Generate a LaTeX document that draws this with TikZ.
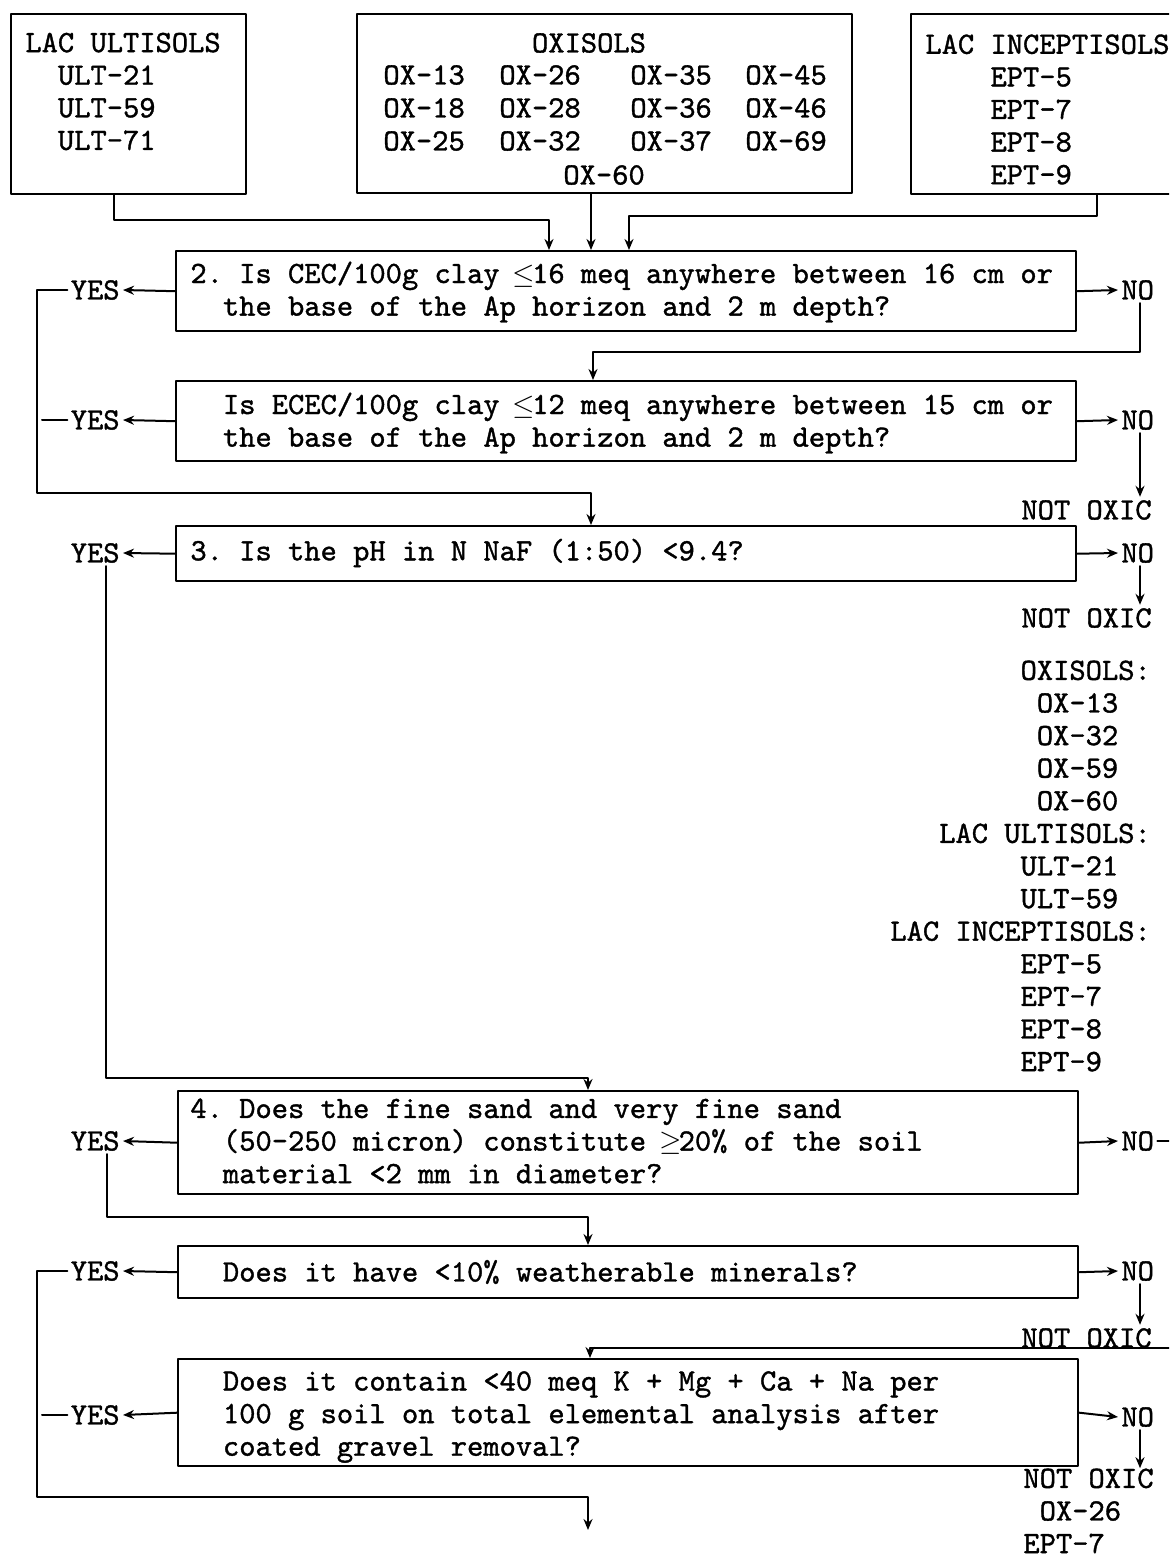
\documentclass[tikz,border=0pt]{standalone}
\usepackage{fontspec}
\usetikzlibrary{arrows.meta}

\newfontfamily\twfont{lmmono10-regular}[Extension=.otf, FakeBold=1.2]
\newcommand{\tw}{\twfont\fontsize{15.5}{16.3}\selectfont\frenchspacing}
\newcommand{\ind}[1][2]{\hspace*{#1\dimexpr0.525em\relax}}
\newcommand{\lesq}{\makebox[0.525em]{$\le$}}
\newcommand{\greq}{\makebox[0.525em]{$\ge$}}

\tikzset{
    sbox/.style={draw, line width=1.2pt, anchor=north west, inner sep=0pt},
    txt/.style={anchor=west, align=left, inner sep=0pt},
    ans/.style={inner sep=1.5pt},
    wire/.style={line width=1pt},
}

\begin{document}
\begin{tikzpicture}[x=0.5pt, y=-0.5pt, line join=round, line cap=round,
    >={Stealth[length=5.5pt,width=4.5pt]}, every node/.style={font=\tw, inner sep=0pt}]
    \useasboundingbox (0,0) rectangle (1169,1558);
    \clip (0,0) rectangle (1169,1558);

    % source groups
    \node[sbox, minimum width=117.5pt, minimum height=90pt] (ult) at (10,13) {};
    \node[txt] (ultt) at (25,91.5) {LAC ULTISOLS\\\ind ULT-21\\\ind ULT-59\\\ind ULT-71};
    \node[sbox, minimum width=247.5pt, minimum height=89.5pt] (ox) at (356,13) {};
    \node (oxt) at (589,43) {OXISOLS};
    \foreach \a/\b/\c/\d [count=\r] in {13/26/35/45, 18/28/36/46, 25/32/37/69} {
        \foreach \n/\x [count=\k] in {\a/383, \b/499, \c/630, \d/745}
            \node[anchor=west] (ox\r\k) at (\x, 42+33*\r) {OX-\n};
    }
    \node[anchor=west] (ox60) at (563,175) {OX-60};
    \node[sbox, minimum width=140pt, minimum height=90pt] (ept) at (910,13) {};
    \node[txt] (eptt) at (925,109.5) {LAC INCEPTISOLS\\\ind[4]EPT-5\\\ind[4]EPT-7\\\ind[4]EPT-8\\\ind[4]EPT-9};

    % question boxes
    \node[sbox, minimum width=450pt, minimum height=40pt] (q2) at (175,250) {};
    \node[txt] (q2t) at (190,292) {2. Is CEC/100g clay \lesq16 meq anywhere between 16 cm or\\\ind the base of the Ap horizon and 2 m depth?};
    \node[sbox, minimum width=450pt, minimum height=40pt] (q2b) at (175,380) {};
    \node[txt] (q2bt) at (190,423) {\ind Is ECEC/100g clay \lesq12 meq anywhere between 15 cm or\\\ind the base of the Ap horizon and 2 m depth?};
    \node[sbox, minimum width=450pt, minimum height=27.5pt] (q3) at (175,525) {};
    \node[txt] (q3t) at (190,553) {3. Is the pH in N NaF (1:50) <9.4?};
    \node[sbox, minimum width=450pt, minimum height=51.5pt] (q4) at (177,1090) {};
    \node[txt] (q4t) at (190,1141) {4. Does the fine sand and very fine sand\\\ind (50-250 micron) constitute \greq20\% of the soil\\\ind material <2 mm in diameter?};
    \node[sbox, minimum width=450pt, minimum height=26pt] (q5) at (177,1245) {};
    \node[txt] (q5t) at (190,1272) {\ind Does it have <10\% weatherable minerals?};
    \node[sbox, minimum width=450pt, minimum height=53.5pt] (q6) at (177,1358) {};
    \node[txt] (q6t) at (190,1417) {\ind Does it contain <40 meq K + Mg + Ca + Na per\\\ind 100 g soil on total elemental analysis after\\\ind coated gravel removal?};

    % answers
    \node[ans, anchor=east] (yes2) at (123,290) {YES};
    \node[ans, anchor=east] (yes2b) at (123,420) {YES};
    \node[ans, anchor=east] (yes3) at (123,553) {YES};
    \node[ans, anchor=east] (yes4) at (123,1141) {YES};
    \node[ans, anchor=east] (yes5) at (123,1271) {YES};
    \node[ans, anchor=east] (yes6) at (123,1415) {YES};
    \node[ans, anchor=west] (no2) at (1118,290) {NO};
    \node[ans, anchor=west] (no2b) at (1118,420) {NO};
    \node[ans, anchor=west] (no3) at (1118,553) {NO};
    \node[ans, anchor=west] (no4) at (1118,1141) {NO};
    \node[ans, anchor=west] (no5) at (1118,1271) {NO};
    \node[ans, anchor=west] (no6) at (1118,1417) {NO};
    \node[ans, anchor=east] (nox1) at (1155,510) {NOT OXIC};
    \node[ans, anchor=east] (nox2) at (1155,618) {NOT OXIC};
    \node[ans, anchor=east] (nox3) at (1155,1338) {NOT OXIC};
    \node[txt] (nox4) at (1023,1511) {NOT OXIC\\\ind[1]OX-26\\EPT-7};
    \node[txt] (list) at (890,866) {\ind[8]OXISOLS:\\\ind[9]OX-13\\\ind[9]OX-32\\\ind[9]OX-59\\\ind[9]OX-60\\\ind[3]LAC ULTISOLS:\\\ind[8]ULT-21\\\ind[8]ULT-59\\LAC INCEPTISOLS:\\\ind[8]EPT-5\\\ind[8]EPT-7\\\ind[8]EPT-8\\\ind[8]EPT-9};
    \coordinate (rim4) at (1169,1141);
    \coordinate (rim6) at (1169,1348);
    \coordinate (last) at (588,1530);

    % connectors
    \draw[wire, ->] (114,0 |- ult.south) |- (549,220) -- (549,0 |- q2.north);
    \draw[wire, ->] (591,0 |- ox.south) -- (591,0 |- q2.north);
    \draw[wire, ->] (1097,0 |- ept.south) |- (629,216) -- (629,0 |- q2.north);

    \draw[wire, ->] (q2.west) -- (yes2.east);
    \draw[wire, ->] (yes2.west) -- (37,290) |- (591,493) -- (591,0 |- q3.north);
    \draw[wire, ->] (q2.east) -- (no2.west);
    \draw[wire, ->] (1140,0 |- no2.south) |- (593,352) -- (593,0 |- q2b.north);

    \draw[wire, ->] (q2b.west) -- (yes2b.east);
    \draw[wire] (42,0 |- yes2b.west) -- (yes2b.west);
    \draw[wire, ->] (q2b.east) -- (no2b.west);
    \draw[wire, ->] (1140,0 |- no2b.south) -- (1140,0 |- nox1.north);

    \draw[wire, ->] (q3.west) -- (yes3.east);
    \draw[wire, ->] (106,0 |- yes3.south) |- (588,1078) -- (588,0 |- q4.north);
    \draw[wire, ->] (q3.east) -- (no3.west);
    \draw[wire, ->] (1140,0 |- no3.south) -- (1140,0 |- nox2.north);

    \draw[wire, ->] (q4.west) -- (yes4.east);
    \draw[wire, ->] (107,0 |- yes4.south) |- (588,1217) -- (588,0 |- q5.north);
    \draw[wire, ->] (q4.east) -- (no4.west);
    \draw[wire] (no4.east) -- (rim4);

    \draw[wire, ->] (q5.west) -- (yes5.east);
    \draw[wire, ->] (yes5.west) -- (37,1271) |- (588,1497) -- (last);
    \draw[wire, ->] (q5.east) -- (no5.west);
    \draw[wire, ->] (1140,0 |- no5.south) -- (1140,0 |- nox3.north);
    \draw[wire, ->] (rim6) -| (590,0 |- q6.north);

    \draw[wire, ->] (q6.west) -- (yes6.east);
    \draw[wire] (42,0 |- yes6.west) -- (yes6.west);
    \draw[wire, ->] (q6.east) -- (no6.west);
    \draw[wire, ->] (1140,0 |- no6.south) -- (1140,0 |- nox4.north);
\end{tikzpicture}
\end{document}
